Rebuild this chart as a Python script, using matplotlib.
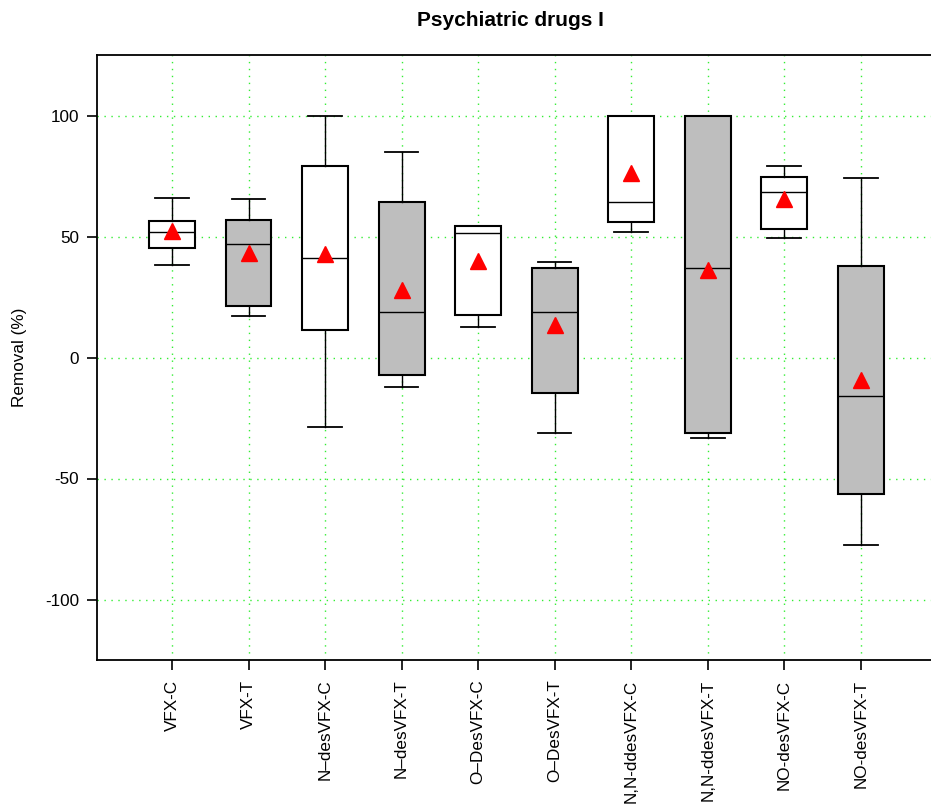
import matplotlib
matplotlib.use("Agg")
import matplotlib.pyplot as plt

plt.rcParams['font.family'] = ['Liberation Sans', 'DejaVu Sans']
plt.rcParams['axes.unicode_minus'] = False

# -------------------------------
# Data
# -------------------------------
labels = ["VFX-C", "VFX-T", "N\u2013desVFX-C", "N\u2013desVFX-T", "O\u2013DesVFX-C",
          "O\u2013DesVFX-T", "N,N-ddesVFX-C", "N,N-ddesVFX-T", "NO-desVFX-C", "NO-desVFX-T"]
whis_lo = [38.2, 17.0, -28.7, -12.1, 12.4, -31.4, 51.9, -33.3, 49.3, -77.6]
q1      = [45.2, 21.1, 11.4, -7.4, 17.7, -14.8, 56.0, -31.2, 53.2, -56.3]
median  = [51.8, 47.1, 41.2, 18.8, 51.4, 18.8, 64.4, 36.8, 68.4, -15.9]
q3      = [56.5, 56.9, 79.1, 64.4, 54.4, 37.0, 100.0, 100.0, 74.6, 38.0]
whis_hi = [66.0, 65.6, 100.0, 84.9, 54.4, 39.4, 100.0, 100.0, 79.1, 74.0]
means   = [52.3, 43.1, 42.6, 27.9, 40.0, 13.5, 76.1, 36.0, 65.5, -9.1]
fills   = ["white", "#BEBEBE"] * 5

positions = list(range(1, len(labels) + 1))

stats = []
for i in range(len(labels)):
    stats.append({
        "whislo": whis_lo[i], "q1": q1[i], "med": median[i],
        "q3": q3[i], "whishi": whis_hi[i], "mean": means[i],
        "fliers": [], "label": labels[i],
    })

# -------------------------------
# Plot
# -------------------------------
fig = plt.figure(figsize=(9.31, 8.10), dpi=100)
ax = fig.add_axes([97 / 931, 150 / 810, 838 / 931, 605 / 810])

for p in positions:
    ax.axvline(p, color="#33EE33", ls=(0, (1, 4)), lw=1.0, zorder=0)
for yv in [-100, -50, 0, 50, 100]:
    ax.axhline(yv, color="#33EE33", ls=(0, (1, 4)), lw=1.0, zorder=0)

bp = ax.bxp(stats, positions=positions, widths=0.6, capwidths=0.44,
            showmeans=True, showfliers=False, patch_artist=True,
            boxprops=dict(lw=1.5, edgecolor="black"),
            medianprops=dict(color="black", lw=1.0),
            whiskerprops=dict(color="black", lw=1.0),
            capprops=dict(color="black", lw=1.3),
            meanprops=dict(marker="^", markerfacecolor="red", markeredgecolor="red",
                           markersize=11))
for patch, c in zip(bp["boxes"], fills):
    patch.set_facecolor(c)

ax.set_xlim(0.02, 10.97)
ax.set_ylim(-125, 125)
ax.set_yticks([-100, -50, 0, 50, 100])
ax.set_xticks(positions)
ax.set_xticklabels(labels, rotation=90, fontsize=12.3)
ax.tick_params(axis="y", labelsize=12.3, length=7, width=1.2, pad=6)
ax.tick_params(axis="x", length=7, width=1.2, pad=7)
ax.spines["right"].set_visible(False)
for s in ["left", "bottom", "top"]:
    ax.spines[s].set_linewidth(1.3)

ax.set_ylabel("Removal (%)", fontsize=12.3)
ax.yaxis.set_label_coords(-0.083, 0.5)
fig.text(510 / 931, 1 - 20 / 810, "Psychiatric drugs I", fontsize=15,
         fontweight="bold", ha="center", va="center")

fig.savefig("out.png", dpi=100)
